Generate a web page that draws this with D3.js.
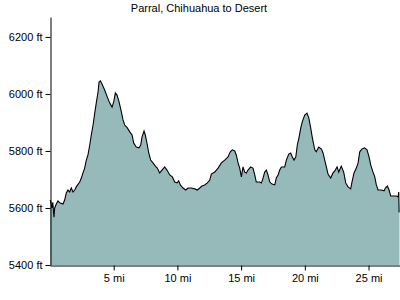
<!DOCTYPE html>
<html><head><meta charset="utf-8">
<script src="https://cdn.jsdelivr.net/npm/d3@7"></script>
<style>body{margin:0;background:#fff}svg{display:block}text{font-family:"Liberation Sans",Arial,sans-serif;font-size:11px;fill:#000}</style>
</head><body>
<script>
const title = "Parral, Chihuahua to Desert";
const miles = [0.00,0.05,0.15,0.22,0.31,0.37,0.50,0.63,0.76,1.02,1.15,1.28,1.41,1.55,1.67,1.81,1.94,2.06,2.33,2.46,2.59,2.72,2.85,2.98,3.12,3.24,3.38,3.51,3.63,3.77,3.85,3.95,4.08,4.29,4.50,4.69,4.87,5.00,5.13,5.26,5.42,5.60,5.73,5.86,6.07,6.26,6.44,6.57,6.77,6.99,7.12,7.22,7.38,7.48,7.61,7.75,7.90,8.08,8.27,8.42,8.61,8.79,9.00,9.18,9.40,9.60,9.79,9.97,10.10,10.23,10.44,10.65,10.83,11.09,11.36,11.56,11.75,11.93,12.14,12.35,12.54,12.66,12.93,13.19,13.45,13.71,13.97,14.15,14.31,14.50,14.62,14.76,14.89,15.02,15.15,15.28,15.41,15.54,15.75,15.93,16.07,16.19,16.46,16.59,16.72,16.85,16.98,17.11,17.25,17.43,17.64,17.76,17.90,18.03,18.16,18.42,18.55,18.74,18.89,19.02,19.15,19.29,19.41,19.54,19.68,19.80,19.99,20.17,20.31,20.46,20.59,20.78,20.90,21.09,21.30,21.43,21.56,21.69,21.82,22.03,22.21,22.35,22.53,22.66,22.86,23.05,23.21,23.39,23.60,23.70,23.86,24.04,24.18,24.31,24.49,24.70,24.88,25.04,25.17,25.35,25.49,25.61,25.75,26.00,26.22,26.32,26.48,26.61,26.74,26.92,27.06,27.18,27.32,27.37,27.40,27.43];
const elevation = [5628,5625,5600,5620,5568,5600,5615,5625,5618,5614,5628,5653,5663,5656,5670,5656,5663,5674,5691,5705,5723,5740,5768,5786,5821,5856,5891,5933,5968,6007,6042,6046,6035,6014,5989,5968,5954,5972,6004,5996,5972,5937,5909,5891,5881,5867,5856,5828,5814,5811,5821,5849,5870,5856,5828,5793,5768,5758,5747,5740,5723,5733,5744,5733,5716,5709,5691,5688,5695,5681,5670,5663,5670,5670,5667,5663,5670,5677,5681,5688,5698,5719,5726,5740,5758,5768,5779,5797,5804,5800,5786,5758,5740,5709,5744,5726,5723,5733,5744,5740,5716,5691,5691,5688,5705,5726,5733,5716,5691,5684,5681,5705,5716,5733,5744,5744,5768,5789,5793,5779,5768,5779,5821,5846,5881,5902,5926,5933,5916,5881,5846,5804,5797,5814,5807,5793,5768,5744,5719,5705,5723,5730,5744,5726,5747,5726,5688,5674,5667,5691,5723,5740,5758,5797,5807,5811,5804,5779,5751,5726,5709,5681,5663,5663,5660,5670,5677,5663,5642,5642,5642,5642,5639,5656,5586,5586];
const yTicks = [5400,5600,5800,6000,6200];
const xTicks = [5,10,15,20,25];

const W = 400, H = 300;
const svg = d3.select("body").append("svg").attr("width", W).attr("height", H);
const x = d3.scaleLinear().domain([0, 27.43]).range([50, 399.5]);
const y = d3.scaleLinear().domain([5400, 6270]).range([265, 17]);
const data = miles.map((m, i) => [m, elevation[i]]);

svg.append("path").datum(data)
  .attr("fill", "#96baba")
  .attr("d", d3.area().x(d => x(d[0])).y0(y(5400)).y1(d => y(d[1])));
svg.append("path").datum(data)
  .attr("fill", "none").attr("stroke", "#000").attr("stroke-width", 1.1)
  .attr("d", d3.line().x(d => x(d[0])).y(d => y(d[1])));

const gy = svg.append("g").attr("transform", "translate(50.5,0)")
  .call(d3.axisLeft(y).tickValues(yTicks).tickSize(5).tickSizeOuter(0).tickPadding(3).tickFormat(d => d + " ft"));
const gx = svg.append("g").attr("transform", "translate(0,265.5)")
  .call(d3.axisBottom(x).tickValues(xTicks).tickSize(5).tickSizeOuter(0).tickPadding(4).tickFormat(d => d + " mi"));
[gy, gx].forEach(g => {
  g.selectAll("text").style("font-family", '"Liberation Sans",Arial,sans-serif').style("font-size", "11px").attr("fill", "#000");
  g.selectAll("line,path").attr("stroke", "#000");
});

svg.append("text").attr("x", 199).attr("y", 12).attr("text-anchor", "middle").text(title);
</script>
</body></html>
